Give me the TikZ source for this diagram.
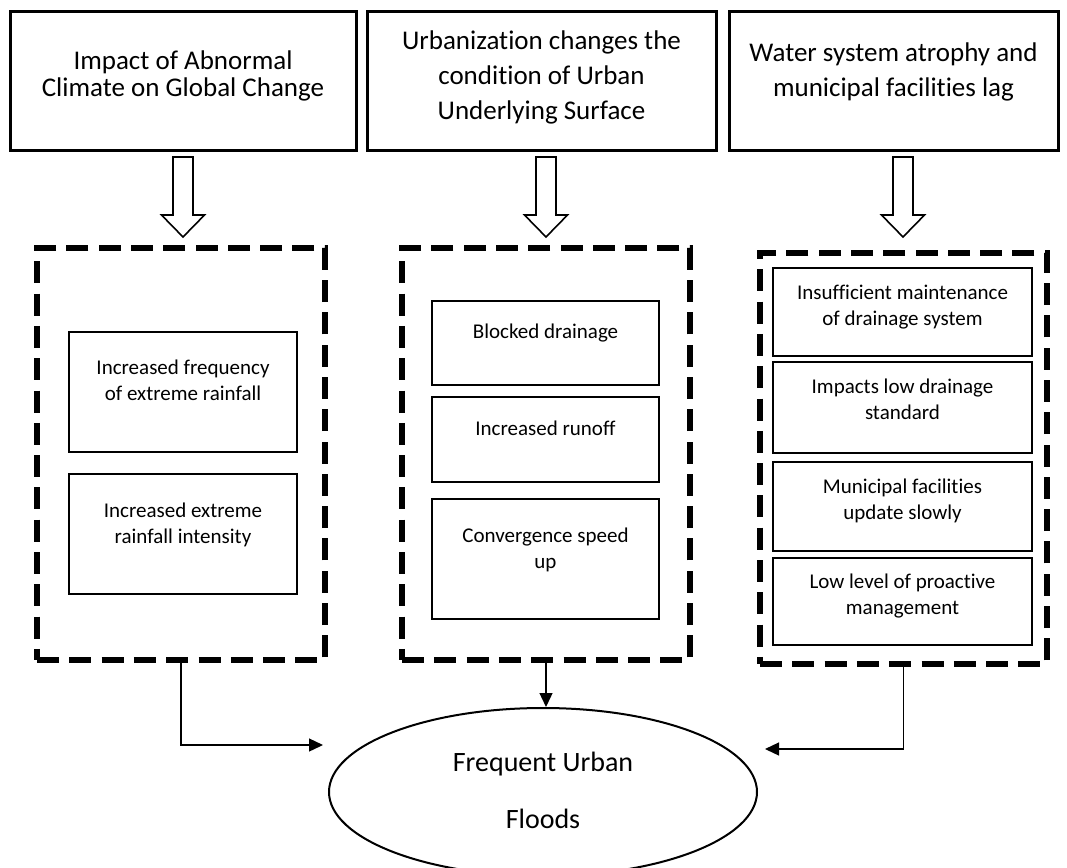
\documentclass[tikz,border=0pt]{standalone}
\usepackage{fontspec}
\setmainfont{Carlito}[Ligatures={TeX,NoCommon}]
\usetikzlibrary{arrows.meta,shapes.geometric}
\newcommand\mlines[1]{\begin{tabular}[t]{@{}c@{}}#1\end{tabular}}
\newcommand\hollowdown[3]{%
  \draw[hollowarrow] (#1-10,#2) -- (#1+10,#2) -- (#1+10,#3-22) -- (#1+21.5,#3-22)
    -- (#1,#3) -- (#1-21.5,#3-22) -- (#1-10,#3-22) -- cycle;}
\begin{document}
\begin{tikzpicture}[x=1pt,y=-1pt,
  topbox/.style={draw, line width=3pt, inner sep=0pt},
  dashbox/.style={draw, line width=6.5pt, dash pattern=on 22pt off 10.3pt, inner sep=0pt},
  innerbox/.style={draw, line width=1.4pt, inner sep=0pt},
  toptxt/.style={anchor=base, inner sep=0pt, font=\fontsize{27}{28}\selectfont},
  toptxtw/.style={anchor=base, inner sep=0pt, font=\fontsize{27}{35}\selectfont},
  intxt/.style={anchor=base, inner sep=0pt, font=\fontsize{21}{26.5}\selectfont},
  elltxt/.style={anchor=base, inner sep=0pt, font=\fontsize{28}{57}\selectfont},
  hollowarrow/.style={draw, fill=white, line width=1.6pt, line join=miter},
  conn/.style={draw, line width=1.3pt, -{Triangle[length=14pt,width=13pt]}}]
\useasboundingbox (0,0) rectangle (1067,867);

% top boxes
\node[topbox, minimum width=346pt, minimum height=138pt] (A) at (183,81) {};
\node[topbox, minimum width=349pt, minimum height=138pt] (B) at (541.5,81) {};
\node[topbox, minimum width=329pt, minimum height=138pt] (C) at (893.5,81) {};
\node[toptxt] (tA) at (183,69) {\mlines{Impact of Abnormal\\Climate on Global Change}};
\node[toptxtw] (tB) at (541.5,50) {\mlines{Urbanization changes the\\condition of Urban\\Underlying Surface}};
\node[toptxtw] (tC) at (893.5,62) {\mlines{Water system atrophy and\\municipal facilities lag}};

% hollow arrows
\hollowdown{183}{157}{237}
\hollowdown{546}{157}{237}
\hollowdown{903}{157}{237}

% dashed groups
\node[dashbox, minimum width=288pt, minimum height=412pt] (D1) at (181,454) {};
\node[dashbox, minimum width=288pt, minimum height=412pt] (D2) at (546,454) {};
\node[dashbox, minimum width=287pt, minimum height=411pt] (D3) at (903.5,458.5) {};

% left column
\node[innerbox, minimum width=228pt, minimum height=120pt] (L1) at (183,392) {};
\node[intxt] (tL1) at (183,374) {\mlines{Increased frequency\\of extreme rainfall}};
\node[innerbox, minimum width=228pt, minimum height=120pt] (L2) at (183,534) {};
\node[intxt] (tL2) at (183,517) {\mlines{Increased extreme\\rainfall intensity}};

% middle column
\node[innerbox, minimum width=227pt, minimum height=84pt] (M1) at (545.5,343) {};
\node[intxt] (tM1) at (545.5,338) {Blocked drainage};
\node[innerbox, minimum width=227pt, minimum height=85pt] (M2) at (545.5,439.5) {};
\node[intxt] (tM2) at (545.5,435) {Increased runoff};
\node[innerbox, minimum width=227pt, minimum height=120pt] (M3) at (545.5,559) {};
\node[intxt] (tM3) at (545.5,542) {\mlines{Convergence speed\\up}};

% right column
\node[innerbox, minimum width=259pt, minimum height=88pt] (R1) at (902.5,312) {};
\node[intxt] (tR1) at (902.5,299) {\mlines{Insufficient maintenance\\of drainage system}};
\node[innerbox, minimum width=259pt, minimum height=91pt] (R2) at (902.5,407.5) {};
\node[intxt] (tR2) at (902.5,393) {\mlines{Impacts low drainage\\standard}};
\node[innerbox, minimum width=259pt, minimum height=89pt] (R3) at (902.5,506.5) {};
\node[intxt] (tR3) at (902.5,493) {\mlines{Municipal facilities\\update slowly}};
\node[innerbox, minimum width=259pt, minimum height=87pt] (R4) at (902.5,601.5) {};
\node[intxt] (tR4) at (902.5,588) {\mlines{Low level of proactive\\management}};

% ellipse
\node[draw, ellipse, line width=2pt, minimum width=428pt, minimum height=168pt, inner sep=0pt] (E) at (543,792) {};
\node[elltxt] (tE) at (543,771) {\mlines{Frequent Urban\\Floods}};

% connectors
\coordinate (lt) at (323,745);
\coordinate (rt) at (765,749);
\draw[conn] (D1.south) |- (lt);
\draw[conn] (D2.south) -- (D2.south |- E.north);
\draw[conn] (D3.south) |- (rt);
\end{tikzpicture}
\end{document}
